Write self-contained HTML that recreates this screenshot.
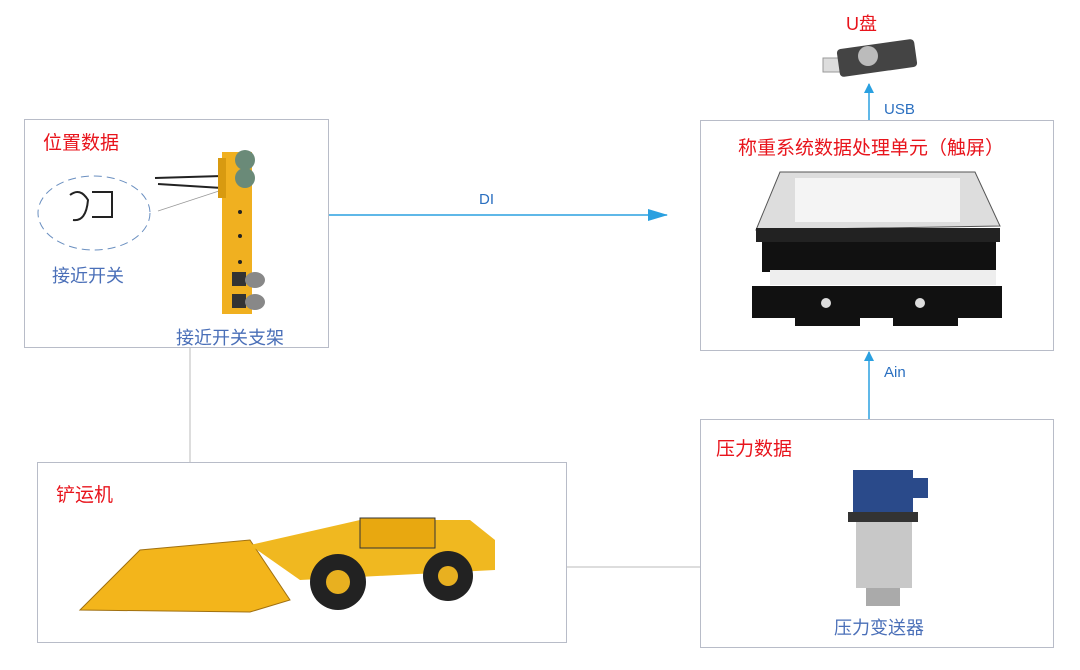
<!DOCTYPE html>
<html><head><meta charset="utf-8"><style>
body{margin:0;width:1080px;height:670px;background:#fff;overflow:hidden;position:relative;font-family:"Liberation Sans","Noto Sans CJK SC",sans-serif}
.box{position:absolute;border:1px solid #b8bcc8;box-sizing:border-box}
.t{position:absolute;white-space:nowrap}
.red{color:#e8141c;font-size:19px}
.blue{color:#4a6fb8;font-size:18px}
.lbl{color:#2a6fc0;font-size:15px}
</style></head><body>
<div class="box" style="left:24px;top:119px;width:305px;height:229px"></div>
<div class="box" style="left:700px;top:120px;width:354px;height:231px"></div>
<div class="box" style="left:37px;top:462px;width:530px;height:181px"></div>
<div class="box" style="left:700px;top:419px;width:354px;height:229px"></div>

<svg width="1080" height="670" style="position:absolute;left:0;top:0">
<defs><marker id="a" markerWidth="10" markerHeight="10" refX="9" refY="5" orient="auto" markerUnits="userSpaceOnUse"><path d="M0,0 L10,5 L0,10z" fill="#2aa0e0"/></marker>
<marker id="b" markerWidth="20" markerHeight="12" refX="19" refY="6" orient="auto" markerUnits="userSpaceOnUse"><path d="M0,0 L20,6 L0,12z" fill="#2aa0e0"/></marker></defs>
<line x1="329" y1="215" x2="667" y2="215" stroke="#2aa0e0" stroke-width="1.5" marker-end="url(#b)"/>
<line x1="869" y1="419" x2="869" y2="352" stroke="#2aa0e0" stroke-width="1.5" marker-end="url(#a)"/>
<line x1="869" y1="120" x2="869" y2="84" stroke="#2aa0e0" stroke-width="1.5" marker-end="url(#a)"/>
<line x1="190" y1="348" x2="190" y2="462" stroke="#bbb" stroke-width="1"/>
<line x1="567" y1="567" x2="700" y2="567" stroke="#bbb" stroke-width="1"/>
<rect x="823" y="58" width="18" height="14" fill="#ddd" stroke="#999"/>
<rect x="838" y="44" width="78" height="28" rx="4" fill="#444" transform="rotate(-8 877 58)"/>
<circle cx="868" cy="56" r="10" fill="#bbb"/>
<ellipse cx="94" cy="213" rx="56" ry="37" fill="none" stroke="#6a8fc0" stroke-dasharray="8,5"/>
<path d="M70 195 q10 -8 18 5 q-2 22 -15 20 M92 192 h20 v25 h-20" fill="none" stroke="#222" stroke-width="2"/>
<line x1="158" y1="211" x2="222" y2="190" stroke="#999" stroke-width="0.8"/>
<line x1="155" y1="178" x2="222" y2="176" stroke="#222" stroke-width="2"/>
<line x1="158" y1="184" x2="222" y2="188" stroke="#222" stroke-width="2"/>
<rect x="222" y="152" width="30" height="162" fill="#f0b020"/>
<rect x="218" y="158" width="8" height="40" fill="#d89a10"/>
<circle cx="245" cy="160" r="10" fill="#6a8a78"/><circle cx="245" cy="178" r="10" fill="#6a8a78"/>
<circle cx="240" cy="212" r="2" fill="#222"/><circle cx="240" cy="236" r="2" fill="#222"/><circle cx="240" cy="262" r="2" fill="#222"/>
<rect x="232" y="272" width="14" height="14" fill="#333"/><ellipse cx="255" cy="280" rx="10" ry="8" fill="#888"/>
<rect x="232" y="294" width="14" height="14" fill="#333"/><ellipse cx="255" cy="302" rx="10" ry="8" fill="#888"/>
<path d="M780 172 L975 172 L1000 226 L756 230 Z" fill="#ddd" stroke="#555"/>
<rect x="795" y="178" width="165" height="44" fill="#f4f4f4"/>
<rect x="756" y="228" width="244" height="14" fill="#222"/>
<rect x="762" y="242" width="234" height="30" fill="#111"/>
<rect x="770" y="270" width="226" height="15" fill="#eee"/>
<rect x="752" y="286" width="250" height="32" fill="#111"/>
<rect x="795" y="316" width="65" height="10" fill="#111"/><rect x="893" y="316" width="65" height="10" fill="#111"/>
<circle cx="826" cy="303" r="5" fill="#ddd"/><circle cx="920" cy="303" r="5" fill="#ddd"/>
<path d="M80 610 L140 550 L250 540 L290 600 L250 612 Z" fill="#f3b51b" stroke="#a07010"/>
<path d="M250 545 L360 520 L365 520 L470 520 L495 540 L495 570 L300 580 Z" fill="#f0b820"/>
<rect x="360" y="518" width="75" height="30" fill="#e8a810" stroke="#333"/>
<circle cx="338" cy="582" r="28" fill="#222"/><circle cx="338" cy="582" r="12" fill="#e8b020"/>
<circle cx="448" cy="576" r="25" fill="#222"/><circle cx="448" cy="576" r="10" fill="#e8b020"/>
<rect x="853" y="470" width="60" height="45" fill="#2a4a8a"/>
<rect x="908" y="478" width="20" height="20" fill="#2a4a8a"/>
<rect x="848" y="512" width="70" height="10" fill="#333"/>
<rect x="856" y="522" width="56" height="66" fill="#c8c8c8"/>
<rect x="866" y="588" width="34" height="18" fill="#aaa"/>
</svg>

<div class="t red" style="left:43px;top:128px">位置数据</div>
<div class="t blue" style="left:52px;top:262px">接近开关</div>
<div class="t blue" style="left:176px;top:324px">接近开关支架</div>
<div class="t red" style="left:738px;top:133px">称重系统数据处理单元（触屏）</div>
<div class="t red" style="left:56px;top:480px">铲运机</div>
<div class="t red" style="left:716px;top:434px">压力数据</div>
<div class="t blue" style="left:834px;top:614px">压力变送器</div>
<div class="t red" style="left:846px;top:10px;font-size:18px">U盘</div>
<div class="t lbl" style="left:479px;top:191px">DI</div>
<div class="t lbl" style="left:884px;top:364px">Ain</div>
<div class="t lbl" style="left:884px;top:101px">USB</div>
</body></html>
